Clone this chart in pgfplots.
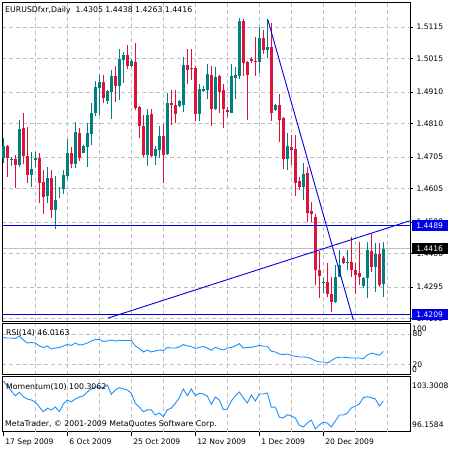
\documentclass[border=0pt]{standalone}
\usepackage{pgfplots}
\pgfplotsset{compat=1.18}
\usepackage{pgfplotstable}
\usepackage{fontspec}
\setmainfont{DejaVu Sans}
\definecolor{upc}{RGB}{0,128,128}
\definecolor{dnc}{RGB}{220,20,60}
\definecolor{gridc}{RGB}{192,192,192}
\definecolor{indc}{RGB}{30,144,255}
\definecolor{lblue}{RGB}{0,0,230}
\pgfplotstableread{
x o h l c
0 1.4703 1.4766 1.4685 1.4740
1 1.4740 1.4743 1.4643 1.4701
2 1.4698 1.4706 1.4678 1.4700
3 1.4698 1.4711 1.4608 1.4680
4 1.4680 1.4822 1.4674 1.4793
5 1.4797 1.4845 1.4682 1.4708
6 1.4708 1.4801 1.4622 1.4648
7 1.4648 1.4721 1.4611 1.4667
8 1.4696 1.4721 1.4674 1.4703
9 1.4703 1.4717 1.4561 1.4624
10 1.4626 1.4664 1.4524 1.4580
11 1.4583 1.4673 1.4559 1.4639
12 1.4639 1.4664 1.4512 1.4538
13 1.4538 1.4645 1.4477 1.4569
14 1.4607 1.4611 1.4577 1.4607
15 1.4604 1.4664 1.4588 1.4648
16 1.4645 1.4762 1.4633 1.4717
17 1.4717 1.4738 1.4669 1.4683
18 1.4683 1.4815 1.4669 1.4785
19 1.4780 1.4796 1.4692 1.4703
20 1.4719 1.4743 1.4717 1.4739
21 1.4738 1.4811 1.4674 1.4780
22 1.4778 1.4876 1.4743 1.4843
23 1.4845 1.4945 1.4834 1.4925
24 1.4924 1.4964 1.4838 1.4940
25 1.4943 1.4964 1.4874 1.4890
26 1.4883 1.4915 1.4872 1.4913
27 1.4911 1.4979 1.4825 1.4960
28 1.4960 1.4993 1.4879 1.4930
29 1.4930 1.5046 1.4885 1.5013
30 1.5011 1.5037 1.4939 1.5027
31 1.5027 1.5058 1.4984 1.4992
32 1.4992 1.5014 1.4989 1.5008
33 1.5006 1.5064 1.4853 1.4860
34 1.4864 1.4866 1.4766 1.4803
35 1.4803 1.4838 1.4705 1.4711
36 1.4711 1.4856 1.4678 1.4838
37 1.4841 1.4856 1.4706 1.4709
38 1.4709 1.4740 1.4680 1.4729
39 1.4727 1.4803 1.4703 1.4771
40 1.4771 1.4808 1.4622 1.4711
41 1.4715 1.4908 1.4712 1.4874
42 1.4874 1.4916 1.4806 1.4869
43 1.4869 1.4916 1.4811 1.4841
44 1.4866 1.4885 1.4864 1.4882
45 1.4869 1.5021 1.4848 1.4995
46 1.4995 1.5045 1.4935 1.4979
47 1.4987 1.5046 1.4948 1.4982
48 1.4987 1.4992 1.4820 1.4841
49 1.4841 1.4935 1.4820 1.4920
50 1.4913 1.4929 1.4911 1.4920
51 1.4916 1.4998 1.4887 1.4967
52 1.4964 1.4992 1.4804 1.4856
53 1.4856 1.4988 1.4853 1.4958
54 1.4960 1.4964 1.4843 1.4911
55 1.4916 1.4935 1.4797 1.4856
56 1.4853 1.4864 1.4830 1.4848
57 1.4845 1.4998 1.4843 1.4960
58 1.4953 1.4988 1.4887 1.4964
59 1.4961 1.5143 1.4951 1.5134
60 1.5134 1.5140 1.4961 1.5002
61 1.5005 1.5008 1.4822 1.4964
62 1.5014 1.5021 1.5000 1.5008
63 1.5008 1.5083 1.4961 1.5006
64 1.5005 1.5115 1.4970 1.5080
65 1.5080 1.5106 1.5029 1.5042
66 1.5042 1.5139 1.5016 1.5053
67 1.5053 1.5127 1.4820 1.4843
68 1.4853 1.4872 1.4851 1.4869
69 1.4869 1.4904 1.4753 1.4822
70 1.4829 1.4831 1.4666 1.4699
71 1.4699 1.4782 1.4664 1.4740
72 1.4738 1.4774 1.4680 1.4727
73 1.4730 1.4774 1.4582 1.4624
74 1.4630 1.4641 1.4601 1.4611
75 1.4611 1.4685 1.4569 1.4651
76 1.4654 1.4674 1.4501 1.4529
77 1.4536 1.4564 1.4501 1.4525
78 1.4515 1.4525 1.4301 1.4349
79 1.4349 1.4409 1.4259 1.4331
80 1.4307 1.4323 1.4275 1.4312
81 1.4310 1.4370 1.4263 1.4273
82 1.4273 1.4328 1.4216 1.4249
83 1.4249 1.4364 1.4244 1.4328
84 1.4328 1.4412 1.4326 1.4364
85 1.4388 1.4393 1.4368 1.4370
86 1.4370 1.4412 1.4349 1.4375
87 1.4375 1.4454 1.4328 1.4349
88 1.4349 1.4370 1.4273 1.4333
89 1.4338 1.4438 1.4301 1.4328
90 1.4299 1.4328 1.4291 1.4323
91 1.4323 1.4438 1.4259 1.4412
92 1.4409 1.4466 1.4343 1.4359
93 1.4359 1.4435 1.4280 1.4399
94 1.4399 1.4435 1.4296 1.4301
95 1.4305 1.4438 1.4263 1.4416
}\candles
\pgfplotstableread{
x rsi mom
0 73.5 103.30
1 72.5 102.56
2 72.5 101.81
3 71.6 101.11
4 76.5 101.62
5 68.6 100.96
6 62.7 100.62
7 63.7 100.47
8 62.7 100.18
9 56.9 99.43
10 53.9 98.73
11 56.9 99.24
12 51.0 98.99
13 52.9 99.43
14 53.9 98.73
15 56.9 99.88
16 59.8 100.47
17 57.8 100.18
18 62.7 100.62
19 58.8 100.92
20 59.8 101.07
21 62.7 101.66
22 66.7 102.11
23 69.6 102.45
24 69.6 102.33
25 65.7 102.26
26 66.7 102.71
27 68.6 101.32
28 66.7 101.96
29 67.6 102.30
30 67.6 102.11
31 67.6 101.96
32 67.6 101.47
33 56.9 99.98
34 52.0 99.43
35 45.1 98.73
36 49.0 98.99
37 45.1 98.99
38 47.1 98.24
39 49.0 98.54
40 48.0 97.99
41 53.9 98.99
42 52.9 99.28
43 52.9 99.98
44 54.9 100.77
45 59.8 102.11
46 56.9 101.11
47 55.9 102.11
48 52.0 101.11
49 54.3 101.47
50 55.9 101.37
51 52.9 101.07
52 48.4 99.83
53 54.3 100.92
54 51.0 100.47
55 49.0 99.03
56 52.9 99.13
57 53.9 100.32
58 56.9 101.07
59 61.4 101.66
60 52.9 100.77
61 53.9 100.03
62 54.3 101.22
63 55.9 100.32
64 58.2 101.37
65 56.3 101.37
66 56.3 101.51
67 46.5 99.39
68 45.1 99.43
69 41.2 97.90
70 39.8 97.79
71 41.2 98.29
72 38.2 98.09
73 36.7 97.79
74 35.3 96.71
75 35.3 96.46
76 34.7 97.05
77 32.0 97.50
78 28.0 96.16
79 25.5 96.75
80 25.5 97.16
81 23.5 97.05
82 28.0 96.46
83 33.3 97.35
84 34.7 98.24
85 34.7 98.24
86 34.3 98.54
87 33.3 99.28
88 33.3 99.58
89 33.3 99.88
90 32.0 100.82
91 39.2 100.96
92 43.1 100.82
93 41.2 100.62
94 38.6 99.58
95 46.0163 100.3062
}\ind
\begin{document}
\begin{tikzpicture}
\fill[white] (0pt,0pt) rectangle (450pt,-450pt);
\pgfplotsset{
  mt/.style={scale only axis, width=408pt, xmin=-0.325, xmax=101.675,
    axis line style={black, line width=1pt},
    grid style={gridc, dash pattern=on 4pt off 3pt, line width=0.8pt},
    tick label style={font=\fontsize{7.6}{9}\selectfont},
    anchor=north west},
  wick/.style={draw=none, mark=none, forget plot,
    error bars/y dir=plus, error bars/y explicit, error bars/error mark=none,
    error bars/error bar style={line width=1pt, draw=#1, solid}},
  body/.style={draw=none, mark=none, forget plot,
    error bars/y dir=plus, error bars/y explicit, error bars/error mark=none,
    error bars/error bar style={line width=3pt, draw=#1, solid}},
}
% ---------- main price panel ----------
\begin{axis}[mt, at={(2pt,-2pt)}, height=320pt,
  ymin=1.41847, ymax=1.51938, clip=false,
  xtick={8,16,...,96}, xticklabels={}, xmajorgrids, xtick style={draw=none},
  ytick={1.4195,1.4295,1.4400,1.4500,1.4605,1.4705,1.4810,1.4910,1.5015,1.5115},
  yticklabels={1.4195,1.4295,1.4400,1.4500,1.4605,1.4705,1.4810,1.4910,1.5015,1.5115},
  ymajorgrids, ytick pos=right, yticklabel pos=right, ytick align=outside,
  major tick length=3pt, ytick style={black, line width=0.8pt},
  yticklabel style={anchor=west, xshift=0pt}]
\addplot[draw=gridc, solid, mark=none, line width=1.3pt] coordinates {(-0.2,1.4416) (101.6,1.4416)};
% wicks
\addplot[wick=upc, restrict expr to domain={\thisrow{c}-\thisrow{o}}{0:1}]
  table[x=x, y=l, y error expr=\thisrow{h}-\thisrow{l}] {\candles};
\addplot[wick=dnc, restrict expr to domain={\thisrow{o}-\thisrow{c}}{0.00001:1}]
  table[x=x, y=l, y error expr=\thisrow{h}-\thisrow{l}] {\candles};
% bodies
\addplot[body=upc, restrict expr to domain={\thisrow{c}-\thisrow{o}}{0.00001:1}]
  table[x=x, y=o, y error expr=\thisrow{c}-\thisrow{o}] {\candles};
\addplot[body=dnc, restrict expr to domain={\thisrow{o}-\thisrow{c}}{0.00001:1}]
  table[x=x, y=c, y error expr=\thisrow{o}-\thisrow{c}] {\candles};
% lines
\addplot[draw=lblue, solid, mark=none, line width=1.3pt] coordinates {(-0.2,1.4489) (101.6,1.4489)};
\addplot[draw=lblue, solid, mark=none, line width=1.3pt] coordinates {(-0.2,1.4209) (101.6,1.4209)};
\addplot[draw=lblue, solid, mark=none, line width=0.9pt] coordinates {(66.1,1.5139) (87.5,1.4191)};
\addplot[draw=lblue, solid, mark=none, line width=0.9pt] coordinates {(26.2,1.4197) (101.675,1.4504)};
\coordinate (b1) at (axis cs:101.675,1.4489);
\coordinate (b2) at (axis cs:101.675,1.4416);
\coordinate (b3) at (axis cs:101.675,1.4209);
\end{axis}
\node[fill=lblue, text=white, anchor=west, minimum width=36pt, minimum height=11pt, inner sep=0pt,
  font=\fontsize{7.6}{9}\selectfont] at ([xshift=1.5pt]b1) {1.4489};
\node[fill=black, text=white, anchor=west, minimum width=36pt, minimum height=11pt, inner sep=0pt,
  font=\fontsize{7.6}{9}\selectfont] at ([xshift=1.5pt]b2) {1.4416};
\node[fill=lblue, text=white, anchor=west, minimum width=36pt, minimum height=11pt, inner sep=0pt,
  font=\fontsize{7.6}{9}\selectfont] at ([xshift=1.5pt]b3) {1.4209};
\node[anchor=west, inner sep=0pt, font=\fontsize{7.8}{9}\selectfont] at (5pt,-10.5pt)
  {EURUSDfxr,Daily\ \ 1.4305 1.4438 1.4263 1.4416};
% ---------- RSI panel ----------
\begin{axis}[mt, at={(2pt,-324pt)}, height=51pt, ymin=0, ymax=100,
  xtick={8,16,...,96}, xticklabels={}, xmajorgrids, xtick style={draw=none},
  ytick={20,80}, yticklabels={20,80}, ymajorgrids, yticklabel pos=right,
  ytick style={draw=none}, yticklabel style={anchor=west, xshift=-1pt}]
\addplot[indc, line width=0.9pt] table[x=x, y=rsi] {\ind};
\end{axis}
\node[anchor=west, inner sep=0pt, font=\fontsize{7.8}{9}\selectfont] at (6pt,-333pt) {RSI(14) 46.0163};
\node[anchor=west, inner sep=0pt, font=\fontsize{7.6}{9}\selectfont] at (412pt,-329pt) {100};
\node[anchor=west, inner sep=0pt, font=\fontsize{7.6}{9}\selectfont] at (412pt,-369.5pt) {0};
% ---------- Momentum panel ----------
\begin{axis}[mt, at={(2pt,-377pt)}, height=55pt, ymin=95.712, ymax=103.896,
  xtick={0,16,32,48,64,80},
  xticklabels={17 Sep 2009,6 Oct 2009,25 Oct 2009,12 Nov 2009,1 Dec 2009,20 Dec 2009},
  xtick pos=left, xtick align=outside, major tick length=4pt,
  xtick style={black, line width=0.8pt},
  xticklabel style={anchor=north west, xshift=-1.5pt, yshift=1pt},
  extra x ticks={8,16,...,96}, extra x tick labels={},
  extra x tick style={grid=major, major tick length=0pt},
  ytick=\empty]
\addplot[indc, line width=0.9pt] table[x=x, y=mom] {\ind};
\end{axis}
\node[anchor=west, inner sep=0pt, font=\fontsize{7.8}{9}\selectfont] at (6pt,-387pt) {Momentum(10) 100.3062};
\node[anchor=west, inner sep=0pt, font=\fontsize{7.8}{9}\selectfont] at (5pt,-424pt) {MetaTrader, © 2001-2009 MetaQuotes Software Corp.};
\node[anchor=west, inner sep=0pt, font=\fontsize{7.6}{9}\selectfont] at (412pt,-386pt) {103.3008};
\node[anchor=west, inner sep=0pt, font=\fontsize{7.6}{9}\selectfont] at (412pt,-425pt) {96.1584};
\end{tikzpicture}
\end{document}
